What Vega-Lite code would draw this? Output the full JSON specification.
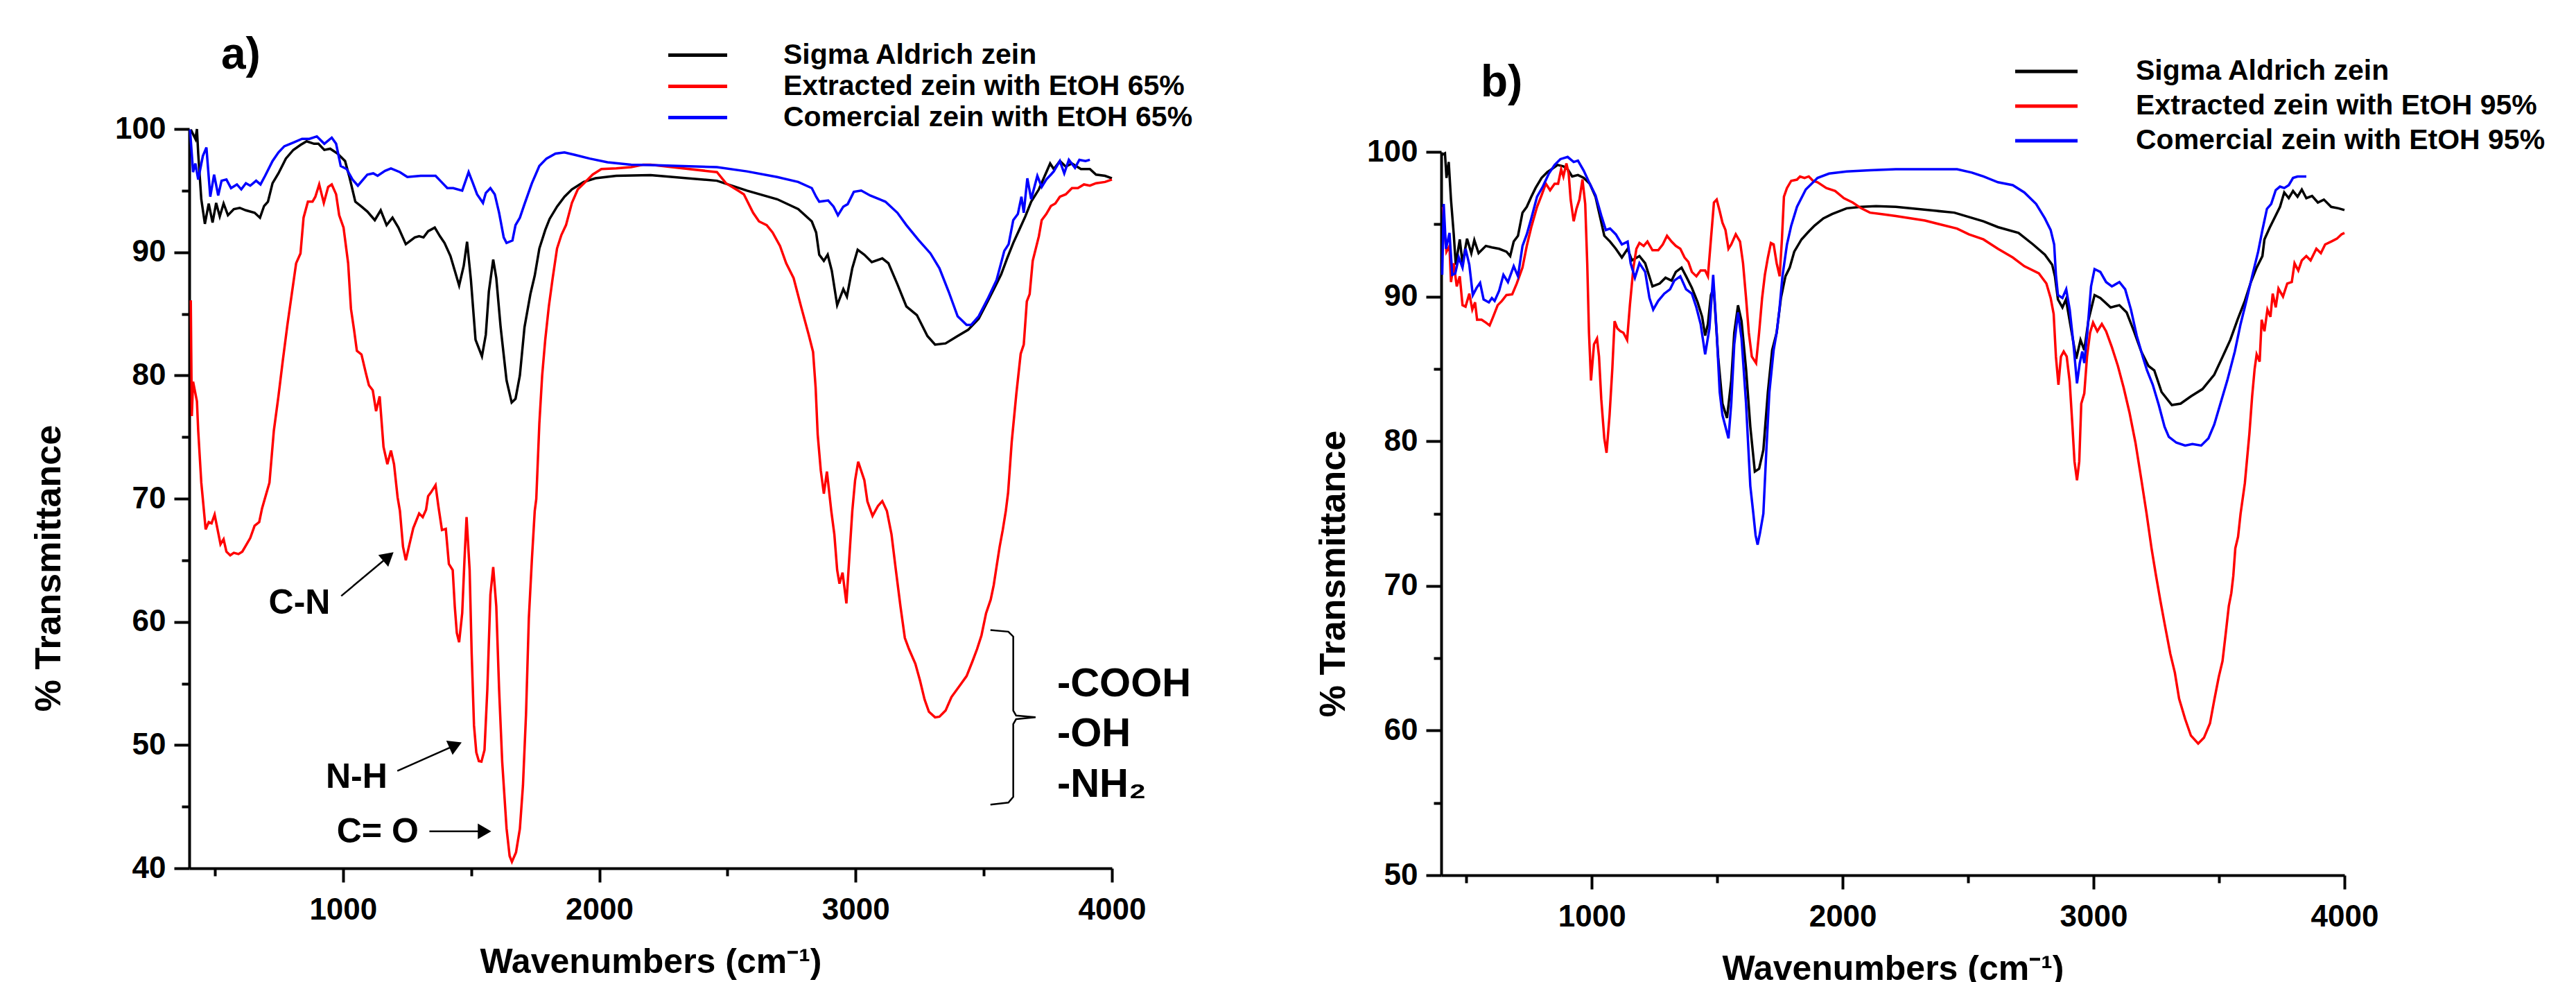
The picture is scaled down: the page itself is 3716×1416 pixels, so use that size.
{
"$schema": "https://vega.github.io/schema/vega-lite/v6.json",
"background": "white",
"padding": {"left": 44, "top": 47, "right": 10, "bottom": 0},
"autosize": {"type": "pad"},
"config": {
  "view": {"stroke": null},
  "font": "Liberation Sans",
  "axis": {"labelFont": "Liberation Sans", "titleFont": "Liberation Sans", "labelFontWeight": "bold", "titleFontWeight": "bold", "labelColor": "#000", "titleColor": "#000", "domainColor": "#000", "tickColor": "#000", "grid": false, "domainWidth": 4, "tickWidth": 4, "labelFontSize": 44, "labelFlush": false, "labelOverlap": false},
  "legend": {"labelFont": "Liberation Sans", "labelFontWeight": "bold", "labelFontSize": 41, "labelColor": "#000", "symbolType": "stroke", "symbolStrokeWidth": 5, "padding": 0, "rowPadding": 0, "labelLimit": 1000, "title": null},
  "title": {"font": "Liberation Sans", "fontSize": 64, "fontWeight": "bold", "anchor": "start", "color": "#000", "frame": "group"}
},
"datasets": {
  "a": [
    {"s":"Sigma Aldrich zein","w":406,"t":99.95},{"s":"Sigma Aldrich zein","w":424,"t":99.2},{"s":"Sigma Aldrich zein","w":430,"t":100},{"s":"Sigma Aldrich zein","w":435,"t":98.0},{"s":"Sigma Aldrich zein","w":447,"t":94.3},{"s":"Sigma Aldrich zein","w":461,"t":92.3},{"s":"Sigma Aldrich zein","w":476,"t":93.95},{"s":"Sigma Aldrich zein","w":491,"t":92.4},{"s":"Sigma Aldrich zein","w":505,"t":94.0},{"s":"Sigma Aldrich zein","w":519,"t":92.9},{"s":"Sigma Aldrich zein","w":534,"t":93.95},{"s":"Sigma Aldrich zein","w":551,"t":93.0},{"s":"Sigma Aldrich zein","w":574,"t":93.5},{"s":"Sigma Aldrich zein","w":597,"t":93.6},{"s":"Sigma Aldrich zein","w":621,"t":93.4},{"s":"Sigma Aldrich zein","w":655,"t":93.2},{"s":"Sigma Aldrich zein","w":676,"t":92.8},{"s":"Sigma Aldrich zein","w":692,"t":93.75},{"s":"Sigma Aldrich zein","w":707,"t":94.1},{"s":"Sigma Aldrich zein","w":725,"t":95.6},{"s":"Sigma Aldrich zein","w":748,"t":96.4},{"s":"Sigma Aldrich zein","w":777,"t":97.6},{"s":"Sigma Aldrich zein","w":806,"t":98.3},{"s":"Sigma Aldrich zein","w":834,"t":98.7},{"s":"Sigma Aldrich zein","w":858,"t":99.0},{"s":"Sigma Aldrich zein","w":887,"t":98.8},{"s":"Sigma Aldrich zein","w":904,"t":98.8},{"s":"Sigma Aldrich zein","w":927,"t":98.3},{"s":"Sigma Aldrich zein","w":950,"t":98.4},{"s":"Sigma Aldrich zein","w":979,"t":98.0},{"s":"Sigma Aldrich zein","w":1008,"t":97.4},{"s":"Sigma Aldrich zein","w":1025,"t":96.1},{"s":"Sigma Aldrich zein","w":1048,"t":94.1},{"s":"Sigma Aldrich zein","w":1072,"t":93.7},{"s":"Sigma Aldrich zein","w":1095,"t":93.3},{"s":"Sigma Aldrich zein","w":1124,"t":92.6},{"s":"Sigma Aldrich zein","w":1147,"t":93.4},{"s":"Sigma Aldrich zein","w":1170,"t":92.2},{"s":"Sigma Aldrich zein","w":1193,"t":92.8},{"s":"Sigma Aldrich zein","w":1216,"t":92.0},{"s":"Sigma Aldrich zein","w":1245,"t":90.65},{"s":"Sigma Aldrich zein","w":1280,"t":91.2},{"s":"Sigma Aldrich zein","w":1297,"t":91.3},{"s":"Sigma Aldrich zein","w":1314,"t":91.2},{"s":"Sigma Aldrich zein","w":1332,"t":91.7},{"s":"Sigma Aldrich zein","w":1358,"t":92.0},{"s":"Sigma Aldrich zein","w":1378,"t":91.3},{"s":"Sigma Aldrich zein","w":1396,"t":90.75},{"s":"Sigma Aldrich zein","w":1419,"t":89.7},{"s":"Sigma Aldrich zein","w":1436,"t":88.5},{"s":"Sigma Aldrich zein","w":1453,"t":87.3},{"s":"Sigma Aldrich zein","w":1471,"t":88.9},{"s":"Sigma Aldrich zein","w":1484,"t":90.85},{"s":"Sigma Aldrich zein","w":1499,"t":87.75},{"s":"Sigma Aldrich zein","w":1517,"t":82.9},{"s":"Sigma Aldrich zein","w":1528,"t":82.3},{"s":"Sigma Aldrich zein","w":1542,"t":81.55},{"s":"Sigma Aldrich zein","w":1557,"t":83.3},{"s":"Sigma Aldrich zein","w":1569,"t":86.8},{"s":"Sigma Aldrich zein","w":1586,"t":89.4},{"s":"Sigma Aldrich zein","w":1598,"t":87.9},{"s":"Sigma Aldrich zein","w":1615,"t":83.9},{"s":"Sigma Aldrich zein","w":1638,"t":79.6},{"s":"Sigma Aldrich zein","w":1658,"t":77.8},{"s":"Sigma Aldrich zein","w":1673,"t":78.1},{"s":"Sigma Aldrich zein","w":1690,"t":80.0},{"s":"Sigma Aldrich zein","w":1708,"t":83.9},{"s":"Sigma Aldrich zein","w":1731,"t":86.6},{"s":"Sigma Aldrich zein","w":1748,"t":88.1},{"s":"Sigma Aldrich zein","w":1766,"t":90.3},{"s":"Sigma Aldrich zein","w":1789,"t":91.8},{"s":"Sigma Aldrich zein","w":1806,"t":92.7},{"s":"Sigma Aldrich zein","w":1835,"t":93.7},{"s":"Sigma Aldrich zein","w":1864,"t":94.5},{"s":"Sigma Aldrich zein","w":1893,"t":95.1},{"s":"Sigma Aldrich zein","w":1939,"t":95.7},{"s":"Sigma Aldrich zein","w":1985,"t":96.0},{"s":"Sigma Aldrich zein","w":2066,"t":96.2},{"s":"Sigma Aldrich zein","w":2200,"t":96.25},{"s":"Sigma Aldrich zein","w":2459,"t":95.8},{"s":"Sigma Aldrich zein","w":2576,"t":95.0},{"s":"Sigma Aldrich zein","w":2694,"t":94.3},{"s":"Sigma Aldrich zein","w":2776,"t":93.5},{"s":"Sigma Aldrich zein","w":2829,"t":92.5},{"s":"Sigma Aldrich zein","w":2846,"t":91.6},{"s":"Sigma Aldrich zein","w":2858,"t":89.8},{"s":"Sigma Aldrich zein","w":2876,"t":89.3},{"s":"Sigma Aldrich zein","w":2891,"t":89.8},{"s":"Sigma Aldrich zein","w":2907,"t":88.5},{"s":"Sigma Aldrich zein","w":2928,"t":85.7},{"s":"Sigma Aldrich zein","w":2952,"t":87.0},{"s":"Sigma Aldrich zein","w":2966,"t":86.4},{"s":"Sigma Aldrich zein","w":2987,"t":88.7},{"s":"Sigma Aldrich zein","w":3008,"t":90.2},{"s":"Sigma Aldrich zein","w":3034,"t":89.8},{"s":"Sigma Aldrich zein","w":3063,"t":89.2},{"s":"Sigma Aldrich zein","w":3104,"t":89.5},{"s":"Sigma Aldrich zein","w":3128,"t":89.1},{"s":"Sigma Aldrich zein","w":3163,"t":87.4},{"s":"Sigma Aldrich zein","w":3198,"t":85.6},{"s":"Sigma Aldrich zein","w":3239,"t":84.9},{"s":"Sigma Aldrich zein","w":3280,"t":83.2},{"s":"Sigma Aldrich zein","w":3310,"t":82.5},{"s":"Sigma Aldrich zein","w":3351,"t":82.6},{"s":"Sigma Aldrich zein","w":3398,"t":83.2},{"s":"Sigma Aldrich zein","w":3439,"t":83.7},{"s":"Sigma Aldrich zein","w":3480,"t":84.6},{"s":"Sigma Aldrich zein","w":3515,"t":86.0},{"s":"Sigma Aldrich zein","w":3544,"t":87.2},{"s":"Sigma Aldrich zein","w":3568,"t":88.2},{"s":"Sigma Aldrich zein","w":3591,"t":89.5},{"s":"Sigma Aldrich zein","w":3615,"t":90.75},{"s":"Sigma Aldrich zein","w":3638,"t":91.8},{"s":"Sigma Aldrich zein","w":3662,"t":92.9},{"s":"Sigma Aldrich zein","w":3685,"t":94.1},{"s":"Sigma Aldrich zein","w":3715,"t":95.1},{"s":"Sigma Aldrich zein","w":3738,"t":96.2},{"s":"Sigma Aldrich zein","w":3759,"t":97.2},{"s":"Sigma Aldrich zein","w":3773,"t":96.75},{"s":"Sigma Aldrich zein","w":3797,"t":97.4},{"s":"Sigma Aldrich zein","w":3820,"t":96.95},{"s":"Sigma Aldrich zein","w":3844,"t":97.2},{"s":"Sigma Aldrich zein","w":3879,"t":96.75},{"s":"Sigma Aldrich zein","w":3914,"t":96.75},{"s":"Sigma Aldrich zein","w":3938,"t":96.3},{"s":"Sigma Aldrich zein","w":3973,"t":96.2},{"s":"Sigma Aldrich zein","w":4000,"t":96.0},
    {"s":"Extracted zein with EtOH 65%","w":406,"t":86.1},{"s":"Extracted zein with EtOH 65%","w":410,"t":76.7},{"s":"Extracted zein with EtOH 65%","w":415,"t":79.5},{"s":"Extracted zein with EtOH 65%","w":430,"t":77.9},{"s":"Extracted zein with EtOH 65%","w":435,"t":75.5},{"s":"Extracted zein with EtOH 65%","w":447,"t":71.3},{"s":"Extracted zein with EtOH 65%","w":453,"t":69.97},{"s":"Extracted zein with EtOH 65%","w":464,"t":67.5},{"s":"Extracted zein with EtOH 65%","w":476,"t":68.1},{"s":"Extracted zein with EtOH 65%","w":487,"t":68.0},{"s":"Extracted zein with EtOH 65%","w":499,"t":68.7},{"s":"Extracted zein with EtOH 65%","w":511,"t":67.45},{"s":"Extracted zein with EtOH 65%","w":522,"t":66.3},{"s":"Extracted zein with EtOH 65%","w":534,"t":66.7},{"s":"Extracted zein with EtOH 65%","w":545,"t":65.7},{"s":"Extracted zein with EtOH 65%","w":560,"t":65.4},{"s":"Extracted zein with EtOH 65%","w":574,"t":65.6},{"s":"Extracted zein with EtOH 65%","w":592,"t":65.5},{"s":"Extracted zein with EtOH 65%","w":607,"t":65.7},{"s":"Extracted zein with EtOH 65%","w":621,"t":66.2},{"s":"Extracted zein with EtOH 65%","w":638,"t":66.8},{"s":"Extracted zein with EtOH 65%","w":655,"t":67.8},{"s":"Extracted zein with EtOH 65%","w":673,"t":68.1},{"s":"Extracted zein with EtOH 65%","w":684,"t":69.2},{"s":"Extracted zein with EtOH 65%","w":695,"t":70.0},{"s":"Extracted zein with EtOH 65%","w":713,"t":71.3},{"s":"Extracted zein with EtOH 65%","w":730,"t":75.5},{"s":"Extracted zein with EtOH 65%","w":748,"t":78.3},{"s":"Extracted zein with EtOH 65%","w":765,"t":81.2},{"s":"Extracted zein with EtOH 65%","w":783,"t":84.1},{"s":"Extracted zein with EtOH 65%","w":800,"t":86.6},{"s":"Extracted zein with EtOH 65%","w":817,"t":89.1},{"s":"Extracted zein with EtOH 65%","w":834,"t":89.9},{"s":"Extracted zein with EtOH 65%","w":846,"t":92.8},{"s":"Extracted zein with EtOH 65%","w":863,"t":94.1},{"s":"Extracted zein with EtOH 65%","w":881,"t":94.1},{"s":"Extracted zein with EtOH 65%","w":892,"t":94.5},{"s":"Extracted zein with EtOH 65%","w":907,"t":95.5},{"s":"Extracted zein with EtOH 65%","w":925,"t":94.0},{"s":"Extracted zein with EtOH 65%","w":942,"t":95.3},{"s":"Extracted zein with EtOH 65%","w":956,"t":95.5},{"s":"Extracted zein with EtOH 65%","w":973,"t":94.7},{"s":"Extracted zein with EtOH 65%","w":985,"t":93.0},{"s":"Extracted zein with EtOH 65%","w":1002,"t":92.0},{"s":"Extracted zein with EtOH 65%","w":1020,"t":89.1},{"s":"Extracted zein with EtOH 65%","w":1031,"t":85.4},{"s":"Extracted zein with EtOH 65%","w":1043,"t":83.7},{"s":"Extracted zein with EtOH 65%","w":1054,"t":82.0},{"s":"Extracted zein with EtOH 65%","w":1072,"t":81.7},{"s":"Extracted zein with EtOH 65%","w":1089,"t":80.2},{"s":"Extracted zein with EtOH 65%","w":1101,"t":79.2},{"s":"Extracted zein with EtOH 65%","w":1116,"t":78.8},{"s":"Extracted zein with EtOH 65%","w":1129,"t":77.1},{"s":"Extracted zein with EtOH 65%","w":1143,"t":78.3},{"s":"Extracted zein with EtOH 65%","w":1158,"t":74.2},{"s":"Extracted zein with EtOH 65%","w":1173,"t":72.8},{"s":"Extracted zein with EtOH 65%","w":1187,"t":73.9},{"s":"Extracted zein with EtOH 65%","w":1199,"t":72.8},{"s":"Extracted zein with EtOH 65%","w":1213,"t":70.1},{"s":"Extracted zein with EtOH 65%","w":1222,"t":69.0},{"s":"Extracted zein with EtOH 65%","w":1234,"t":66.1},{"s":"Extracted zein with EtOH 65%","w":1245,"t":65.0},{"s":"Extracted zein with EtOH 65%","w":1257,"t":66.1},{"s":"Extracted zein with EtOH 65%","w":1274,"t":67.6},{"s":"Extracted zein with EtOH 65%","w":1297,"t":68.8},{"s":"Extracted zein with EtOH 65%","w":1311,"t":68.5},{"s":"Extracted zein with EtOH 65%","w":1324,"t":69.1},{"s":"Extracted zein with EtOH 65%","w":1332,"t":70.2},{"s":"Extracted zein with EtOH 65%","w":1343,"t":70.5},{"s":"Extracted zein with EtOH 65%","w":1361,"t":71.1},{"s":"Extracted zein with EtOH 65%","w":1372,"t":69.4},{"s":"Extracted zein with EtOH 65%","w":1386,"t":67.45},{"s":"Extracted zein with EtOH 65%","w":1401,"t":67.55},{"s":"Extracted zein with EtOH 65%","w":1413,"t":64.7},{"s":"Extracted zein with EtOH 65%","w":1428,"t":64.2},{"s":"Extracted zein with EtOH 65%","w":1436,"t":61.25},{"s":"Extracted zein with EtOH 65%","w":1444,"t":59.1},{"s":"Extracted zein with EtOH 65%","w":1453,"t":58.35},{"s":"Extracted zein with EtOH 65%","w":1465,"t":60.7},{"s":"Extracted zein with EtOH 65%","w":1474,"t":65.1},{"s":"Extracted zein with EtOH 65%","w":1482,"t":68.5},{"s":"Extracted zein with EtOH 65%","w":1494,"t":64.2},{"s":"Extracted zein with EtOH 65%","w":1502,"t":57.4},{"s":"Extracted zein with EtOH 65%","w":1511,"t":51.6},{"s":"Extracted zein with EtOH 65%","w":1520,"t":49.4},{"s":"Extracted zein with EtOH 65%","w":1530,"t":48.7},{"s":"Extracted zein with EtOH 65%","w":1540,"t":48.66},{"s":"Extracted zein with EtOH 65%","w":1552,"t":49.6},{"s":"Extracted zein with EtOH 65%","w":1563,"t":54.5},{"s":"Extracted zein with EtOH 65%","w":1575,"t":62.2},{"s":"Extracted zein with EtOH 65%","w":1586,"t":64.45},{"s":"Extracted zein with EtOH 65%","w":1598,"t":61.25},{"s":"Extracted zein with EtOH 65%","w":1609,"t":54.5},{"s":"Extracted zein with EtOH 65%","w":1621,"t":48.66},{"s":"Extracted zein with EtOH 65%","w":1638,"t":43.24},{"s":"Extracted zein with EtOH 65%","w":1650,"t":41.0},{"s":"Extracted zein with EtOH 65%","w":1659,"t":40.53},{"s":"Extracted zein with EtOH 65%","w":1675,"t":41.3},{"s":"Extracted zein with EtOH 65%","w":1690,"t":43.2},{"s":"Extracted zein with EtOH 65%","w":1702,"t":46.7},{"s":"Extracted zein with EtOH 65%","w":1714,"t":52.5},{"s":"Extracted zein with EtOH 65%","w":1725,"t":60.3},{"s":"Extracted zein with EtOH 65%","w":1737,"t":65.1},{"s":"Extracted zein with EtOH 65%","w":1748,"t":69.0},{"s":"Extracted zein with EtOH 65%","w":1754,"t":69.97},{"s":"Extracted zein with EtOH 65%","w":1766,"t":76.1},{"s":"Extracted zein with EtOH 65%","w":1777,"t":80.0},{"s":"Extracted zein with EtOH 65%","w":1789,"t":82.9},{"s":"Extracted zein with EtOH 65%","w":1803,"t":85.6},{"s":"Extracted zein with EtOH 65%","w":1818,"t":87.9},{"s":"Extracted zein with EtOH 65%","w":1835,"t":90.3},{"s":"Extracted zein with EtOH 65%","w":1852,"t":91.4},{"s":"Extracted zein with EtOH 65%","w":1870,"t":92.2},{"s":"Extracted zein with EtOH 65%","w":1893,"t":94.0},{"s":"Extracted zein with EtOH 65%","w":1916,"t":95.1},{"s":"Extracted zein with EtOH 65%","w":1945,"t":95.7},{"s":"Extracted zein with EtOH 65%","w":1974,"t":96.3},{"s":"Extracted zein with EtOH 65%","w":2008,"t":96.75},{"s":"Extracted zein with EtOH 65%","w":2066,"t":96.8},{"s":"Extracted zein with EtOH 65%","w":2124,"t":96.9},{"s":"Extracted zein with EtOH 65%","w":2170,"t":97.1},{"s":"Extracted zein with EtOH 65%","w":2200,"t":97.1},{"s":"Extracted zein with EtOH 65%","w":2459,"t":96.5},{"s":"Extracted zein with EtOH 65%","w":2494,"t":95.6},{"s":"Extracted zein with EtOH 65%","w":2541,"t":95.0},{"s":"Extracted zein with EtOH 65%","w":2564,"t":94.7},{"s":"Extracted zein with EtOH 65%","w":2600,"t":93.2},{"s":"Extracted zein with EtOH 65%","w":2623,"t":92.5},{"s":"Extracted zein with EtOH 65%","w":2653,"t":92.2},{"s":"Extracted zein with EtOH 65%","w":2676,"t":91.6},{"s":"Extracted zein with EtOH 65%","w":2705,"t":90.5},{"s":"Extracted zein with EtOH 65%","w":2729,"t":89.1},{"s":"Extracted zein with EtOH 65%","w":2758,"t":87.9},{"s":"Extracted zein with EtOH 65%","w":2787,"t":85.6},{"s":"Extracted zein with EtOH 65%","w":2817,"t":83.3},{"s":"Extracted zein with EtOH 65%","w":2834,"t":81.9},{"s":"Extracted zein with EtOH 65%","w":2844,"t":79.0},{"s":"Extracted zein with EtOH 65%","w":2852,"t":75.2},{"s":"Extracted zein with EtOH 65%","w":2864,"t":72.3},{"s":"Extracted zein with EtOH 65%","w":2876,"t":70.4},{"s":"Extracted zein with EtOH 65%","w":2888,"t":72.2},{"s":"Extracted zein with EtOH 65%","w":2905,"t":69.0},{"s":"Extracted zein with EtOH 65%","w":2917,"t":67.1},{"s":"Extracted zein with EtOH 65%","w":2928,"t":64.2},{"s":"Extracted zein with EtOH 65%","w":2937,"t":63.1},{"s":"Extracted zein with EtOH 65%","w":2949,"t":64.0},{"s":"Extracted zein with EtOH 65%","w":2964,"t":61.5},{"s":"Extracted zein with EtOH 65%","w":2975,"t":65.1},{"s":"Extracted zein with EtOH 65%","w":2987,"t":69.0},{"s":"Extracted zein with EtOH 65%","w":2998,"t":71.5},{"s":"Extracted zein with EtOH 65%","w":3010,"t":73.0},{"s":"Extracted zein with EtOH 65%","w":3034,"t":71.5},{"s":"Extracted zein with EtOH 65%","w":3046,"t":69.77},{"s":"Extracted zein with EtOH 65%","w":3066,"t":68.6},{"s":"Extracted zein with EtOH 65%","w":3087,"t":69.4},{"s":"Extracted zein with EtOH 65%","w":3104,"t":69.8},{"s":"Extracted zein with EtOH 65%","w":3122,"t":69.0},{"s":"Extracted zein with EtOH 65%","w":3140,"t":67.1},{"s":"Extracted zein with EtOH 65%","w":3157,"t":64.2},{"s":"Extracted zein with EtOH 65%","w":3175,"t":61.25},{"s":"Extracted zein with EtOH 65%","w":3192,"t":58.7},{"s":"Extracted zein with EtOH 65%","w":3208,"t":57.8},{"s":"Extracted zein with EtOH 65%","w":3233,"t":56.6},{"s":"Extracted zein with EtOH 65%","w":3251,"t":55.25},{"s":"Extracted zein with EtOH 65%","w":3269,"t":53.7},{"s":"Extracted zein with EtOH 65%","w":3286,"t":52.7},{"s":"Extracted zein with EtOH 65%","w":3310,"t":52.25},{"s":"Extracted zein with EtOH 65%","w":3327,"t":52.3},{"s":"Extracted zein with EtOH 65%","w":3351,"t":52.8},{"s":"Extracted zein with EtOH 65%","w":3374,"t":53.9},{"s":"Extracted zein with EtOH 65%","w":3409,"t":54.9},{"s":"Extracted zein with EtOH 65%","w":3433,"t":55.6},{"s":"Extracted zein with EtOH 65%","w":3456,"t":56.8},{"s":"Extracted zein with EtOH 65%","w":3474,"t":57.8},{"s":"Extracted zein with EtOH 65%","w":3491,"t":58.9},{"s":"Extracted zein with EtOH 65%","w":3509,"t":60.7},{"s":"Extracted zein with EtOH 65%","w":3527,"t":61.8},{"s":"Extracted zein with EtOH 65%","w":3539,"t":63.0},{"s":"Extracted zein with EtOH 65%","w":3550,"t":64.5},{"s":"Extracted zein with EtOH 65%","w":3562,"t":66.1},{"s":"Extracted zein with EtOH 65%","w":3574,"t":67.45},{"s":"Extracted zein with EtOH 65%","w":3586,"t":69.0},{"s":"Extracted zein with EtOH 65%","w":3595,"t":70.5},{"s":"Extracted zein with EtOH 65%","w":3609,"t":74.6},{"s":"Extracted zein with EtOH 65%","w":3627,"t":78.5},{"s":"Extracted zein with EtOH 65%","w":3644,"t":81.75},{"s":"Extracted zein with EtOH 65%","w":3656,"t":82.5},{"s":"Extracted zein with EtOH 65%","w":3668,"t":86.0},{"s":"Extracted zein with EtOH 65%","w":3679,"t":86.6},{"s":"Extracted zein with EtOH 65%","w":3691,"t":89.3},{"s":"Extracted zein with EtOH 65%","w":3703,"t":90.3},{"s":"Extracted zein with EtOH 65%","w":3715,"t":91.3},{"s":"Extracted zein with EtOH 65%","w":3726,"t":92.6},{"s":"Extracted zein with EtOH 65%","w":3744,"t":93.1},{"s":"Extracted zein with EtOH 65%","w":3762,"t":93.75},{"s":"Extracted zein with EtOH 65%","w":3779,"t":93.95},{"s":"Extracted zein with EtOH 65%","w":3797,"t":94.5},{"s":"Extracted zein with EtOH 65%","w":3820,"t":94.7},{"s":"Extracted zein with EtOH 65%","w":3844,"t":95.2},{"s":"Extracted zein with EtOH 65%","w":3867,"t":95.2},{"s":"Extracted zein with EtOH 65%","w":3891,"t":95.5},{"s":"Extracted zein with EtOH 65%","w":3914,"t":95.4},{"s":"Extracted zein with EtOH 65%","w":3938,"t":95.6},{"s":"Extracted zein with EtOH 65%","w":3973,"t":95.7},{"s":"Extracted zein with EtOH 65%","w":4000,"t":95.9},
    {"s":"Comercial zein with EtOH 65%","w":403,"t":99.95},{"s":"Comercial zein with EtOH 65%","w":415,"t":96.5},{"s":"Comercial zein with EtOH 65%","w":424,"t":97.2},{"s":"Comercial zein with EtOH 65%","w":435,"t":95.9},{"s":"Comercial zein with EtOH 65%","w":453,"t":97.8},{"s":"Comercial zein with EtOH 65%","w":467,"t":98.5},{"s":"Comercial zein with EtOH 65%","w":482,"t":94.5},{"s":"Comercial zein with EtOH 65%","w":497,"t":96.3},{"s":"Comercial zein with EtOH 65%","w":513,"t":94.6},{"s":"Comercial zein with EtOH 65%","w":526,"t":95.8},{"s":"Comercial zein with EtOH 65%","w":545,"t":95.9},{"s":"Comercial zein with EtOH 65%","w":563,"t":95.2},{"s":"Comercial zein with EtOH 65%","w":586,"t":95.5},{"s":"Comercial zein with EtOH 65%","w":603,"t":95.1},{"s":"Comercial zein with EtOH 65%","w":621,"t":95.6},{"s":"Comercial zein with EtOH 65%","w":638,"t":95.4},{"s":"Comercial zein with EtOH 65%","w":661,"t":95.8},{"s":"Comercial zein with EtOH 65%","w":678,"t":95.5},{"s":"Comercial zein with EtOH 65%","w":696,"t":96.2},{"s":"Comercial zein with EtOH 65%","w":725,"t":97.4},{"s":"Comercial zein with EtOH 65%","w":748,"t":98.1},{"s":"Comercial zein with EtOH 65%","w":771,"t":98.6},{"s":"Comercial zein with EtOH 65%","w":806,"t":98.9},{"s":"Comercial zein with EtOH 65%","w":840,"t":99.2},{"s":"Comercial zein with EtOH 65%","w":869,"t":99.2},{"s":"Comercial zein with EtOH 65%","w":898,"t":99.4},{"s":"Comercial zein with EtOH 65%","w":927,"t":98.8},{"s":"Comercial zein with EtOH 65%","w":956,"t":99.3},{"s":"Comercial zein with EtOH 65%","w":973,"t":98.8},{"s":"Comercial zein with EtOH 65%","w":991,"t":97.0},{"s":"Comercial zein with EtOH 65%","w":1014,"t":96.75},{"s":"Comercial zein with EtOH 65%","w":1037,"t":95.9},{"s":"Comercial zein with EtOH 65%","w":1058,"t":95.4},{"s":"Comercial zein with EtOH 65%","w":1095,"t":96.3},{"s":"Comercial zein with EtOH 65%","w":1118,"t":96.4},{"s":"Comercial zein with EtOH 65%","w":1135,"t":96.2},{"s":"Comercial zein with EtOH 65%","w":1164,"t":96.6},{"s":"Comercial zein with EtOH 65%","w":1187,"t":96.8},{"s":"Comercial zein with EtOH 65%","w":1222,"t":96.5},{"s":"Comercial zein with EtOH 65%","w":1251,"t":96.1},{"s":"Comercial zein with EtOH 65%","w":1303,"t":96.2},{"s":"Comercial zein with EtOH 65%","w":1338,"t":96.2},{"s":"Comercial zein with EtOH 65%","w":1361,"t":96.2},{"s":"Comercial zein with EtOH 65%","w":1384,"t":95.7},{"s":"Comercial zein with EtOH 65%","w":1407,"t":95.2},{"s":"Comercial zein with EtOH 65%","w":1430,"t":95.2},{"s":"Comercial zein with EtOH 65%","w":1465,"t":95.0},{"s":"Comercial zein with EtOH 65%","w":1490,"t":96.5},{"s":"Comercial zein with EtOH 65%","w":1505,"t":95.7},{"s":"Comercial zein with EtOH 65%","w":1523,"t":94.7},{"s":"Comercial zein with EtOH 65%","w":1546,"t":94.0},{"s":"Comercial zein with EtOH 65%","w":1557,"t":94.8},{"s":"Comercial zein with EtOH 65%","w":1575,"t":95.2},{"s":"Comercial zein with EtOH 65%","w":1592,"t":94.7},{"s":"Comercial zein with EtOH 65%","w":1609,"t":93.2},{"s":"Comercial zein with EtOH 65%","w":1627,"t":91.2},{"s":"Comercial zein with EtOH 65%","w":1638,"t":90.75},{"s":"Comercial zein with EtOH 65%","w":1661,"t":90.95},{"s":"Comercial zein with EtOH 65%","w":1673,"t":92.2},{"s":"Comercial zein with EtOH 65%","w":1690,"t":92.8},{"s":"Comercial zein with EtOH 65%","w":1708,"t":93.9},{"s":"Comercial zein with EtOH 65%","w":1725,"t":94.9},{"s":"Comercial zein with EtOH 65%","w":1737,"t":95.6},{"s":"Comercial zein with EtOH 65%","w":1766,"t":97.0},{"s":"Comercial zein with EtOH 65%","w":1794,"t":97.6},{"s":"Comercial zein with EtOH 65%","w":1829,"t":98.0},{"s":"Comercial zein with EtOH 65%","w":1864,"t":98.1},{"s":"Comercial zein with EtOH 65%","w":1904,"t":97.9},{"s":"Comercial zein with EtOH 65%","w":1962,"t":97.6},{"s":"Comercial zein with EtOH 65%","w":2032,"t":97.3},{"s":"Comercial zein with EtOH 65%","w":2124,"t":97.1},{"s":"Comercial zein with EtOH 65%","w":2200,"t":97.08},{"s":"Comercial zein with EtOH 65%","w":2459,"t":96.9},{"s":"Comercial zein with EtOH 65%","w":2576,"t":96.56},{"s":"Comercial zein with EtOH 65%","w":2694,"t":96.1},{"s":"Comercial zein with EtOH 65%","w":2776,"t":95.7},{"s":"Comercial zein with EtOH 65%","w":2829,"t":95.2},{"s":"Comercial zein with EtOH 65%","w":2846,"t":94.5},{"s":"Comercial zein with EtOH 65%","w":2858,"t":94.1},{"s":"Comercial zein with EtOH 65%","w":2893,"t":94.2},{"s":"Comercial zein with EtOH 65%","w":2914,"t":93.7},{"s":"Comercial zein with EtOH 65%","w":2931,"t":93.0},{"s":"Comercial zein with EtOH 65%","w":2952,"t":93.7},{"s":"Comercial zein with EtOH 65%","w":2969,"t":93.9},{"s":"Comercial zein with EtOH 65%","w":2993,"t":94.9},{"s":"Comercial zein with EtOH 65%","w":3022,"t":95.0},{"s":"Comercial zein with EtOH 65%","w":3057,"t":94.6},{"s":"Comercial zein with EtOH 65%","w":3116,"t":94.1},{"s":"Comercial zein with EtOH 65%","w":3163,"t":93.2},{"s":"Comercial zein with EtOH 65%","w":3198,"t":92.2},{"s":"Comercial zein with EtOH 65%","w":3245,"t":91.0},{"s":"Comercial zein with EtOH 65%","w":3292,"t":89.9},{"s":"Comercial zein with EtOH 65%","w":3327,"t":88.7},{"s":"Comercial zein with EtOH 65%","w":3363,"t":86.8},{"s":"Comercial zein with EtOH 65%","w":3398,"t":84.8},{"s":"Comercial zein with EtOH 65%","w":3433,"t":84.1},{"s":"Comercial zein with EtOH 65%","w":3451,"t":84.1},{"s":"Comercial zein with EtOH 65%","w":3480,"t":84.8},{"s":"Comercial zein with EtOH 65%","w":3515,"t":86.2},{"s":"Comercial zein with EtOH 65%","w":3550,"t":87.75},{"s":"Comercial zein with EtOH 65%","w":3580,"t":90.1},{"s":"Comercial zein with EtOH 65%","w":3597,"t":90.65},{"s":"Comercial zein with EtOH 65%","w":3615,"t":92.6},{"s":"Comercial zein with EtOH 65%","w":3633,"t":93.1},{"s":"Comercial zein with EtOH 65%","w":3647,"t":94.5},{"s":"Comercial zein with EtOH 65%","w":3656,"t":93.2},{"s":"Comercial zein with EtOH 65%","w":3670,"t":96.0},{"s":"Comercial zein with EtOH 65%","w":3685,"t":94.3},{"s":"Comercial zein with EtOH 65%","w":3709,"t":96.2},{"s":"Comercial zein with EtOH 65%","w":3726,"t":95.3},{"s":"Comercial zein with EtOH 65%","w":3744,"t":95.9},{"s":"Comercial zein with EtOH 65%","w":3762,"t":96.3},{"s":"Comercial zein with EtOH 65%","w":3773,"t":96.56},{"s":"Comercial zein with EtOH 65%","w":3797,"t":97.4},{"s":"Comercial zein with EtOH 65%","w":3814,"t":96.4},{"s":"Comercial zein with EtOH 65%","w":3832,"t":97.5},{"s":"Comercial zein with EtOH 65%","w":3856,"t":96.85},{"s":"Comercial zein with EtOH 65%","w":3873,"t":97.5},{"s":"Comercial zein with EtOH 65%","w":3897,"t":97.4},{"s":"Comercial zein with EtOH 65%","w":3914,"t":97.5}
  ],
  "b": [
    {"s":"Sigma Aldrich zein","w":404,"t":99.8},{"s":"Sigma Aldrich zein","w":415,"t":99.9},{"s":"Sigma Aldrich zein","w":421,"t":98.2},{"s":"Sigma Aldrich zein","w":430,"t":99.3},{"s":"Sigma Aldrich zein","w":439,"t":96.7},{"s":"Sigma Aldrich zein","w":450,"t":94.3},{"s":"Sigma Aldrich zein","w":458,"t":92.2},{"s":"Sigma Aldrich zein","w":474,"t":93.95},{"s":"Sigma Aldrich zein","w":485,"t":92.3},{"s":"Sigma Aldrich zein","w":503,"t":94.0},{"s":"Sigma Aldrich zein","w":520,"t":93.0},{"s":"Sigma Aldrich zein","w":532,"t":93.9},{"s":"Sigma Aldrich zein","w":549,"t":93.0},{"s":"Sigma Aldrich zein","w":578,"t":93.5},{"s":"Sigma Aldrich zein","w":602,"t":93.4},{"s":"Sigma Aldrich zein","w":631,"t":93.3},{"s":"Sigma Aldrich zein","w":660,"t":93.1},{"s":"Sigma Aldrich zein","w":675,"t":92.8},{"s":"Sigma Aldrich zein","w":689,"t":93.8},{"s":"Sigma Aldrich zein","w":706,"t":94.2},{"s":"Sigma Aldrich zein","w":724,"t":95.8},{"s":"Sigma Aldrich zein","w":741,"t":96.2},{"s":"Sigma Aldrich zein","w":759,"t":96.9},{"s":"Sigma Aldrich zein","w":776,"t":97.5},{"s":"Sigma Aldrich zein","w":800,"t":98.2},{"s":"Sigma Aldrich zein","w":823,"t":98.6},{"s":"Sigma Aldrich zein","w":840,"t":98.8},{"s":"Sigma Aldrich zein","w":864,"t":99.1},{"s":"Sigma Aldrich zein","w":887,"t":99.0},{"s":"Sigma Aldrich zein","w":904,"t":98.8},{"s":"Sigma Aldrich zein","w":922,"t":98.3},{"s":"Sigma Aldrich zein","w":945,"t":98.4},{"s":"Sigma Aldrich zein","w":968,"t":98.2},{"s":"Sigma Aldrich zein","w":992,"t":97.8},{"s":"Sigma Aldrich zein","w":1015,"t":96.9},{"s":"Sigma Aldrich zein","w":1032,"t":95.6},{"s":"Sigma Aldrich zein","w":1050,"t":94.2},{"s":"Sigma Aldrich zein","w":1073,"t":93.8},{"s":"Sigma Aldrich zein","w":1096,"t":93.3},{"s":"Sigma Aldrich zein","w":1120,"t":92.7},{"s":"Sigma Aldrich zein","w":1143,"t":93.3},{"s":"Sigma Aldrich zein","w":1160,"t":92.5},{"s":"Sigma Aldrich zein","w":1190,"t":92.8},{"s":"Sigma Aldrich zein","w":1213,"t":92.3},{"s":"Sigma Aldrich zein","w":1242,"t":90.7},{"s":"Sigma Aldrich zein","w":1271,"t":90.9},{"s":"Sigma Aldrich zein","w":1294,"t":91.3},{"s":"Sigma Aldrich zein","w":1318,"t":91.1},{"s":"Sigma Aldrich zein","w":1335,"t":91.7},{"s":"Sigma Aldrich zein","w":1358,"t":92.0},{"s":"Sigma Aldrich zein","w":1376,"t":91.4},{"s":"Sigma Aldrich zein","w":1399,"t":90.6},{"s":"Sigma Aldrich zein","w":1422,"t":89.6},{"s":"Sigma Aldrich zein","w":1440,"t":88.6},{"s":"Sigma Aldrich zein","w":1452,"t":87.3},{"s":"Sigma Aldrich zein","w":1463,"t":88.1},{"s":"Sigma Aldrich zein","w":1475,"t":90.1},{"s":"Sigma Aldrich zein","w":1486,"t":90.6},{"s":"Sigma Aldrich zein","w":1504,"t":85.8},{"s":"Sigma Aldrich zein","w":1521,"t":82.6},{"s":"Sigma Aldrich zein","w":1539,"t":81.6},{"s":"Sigma Aldrich zein","w":1556,"t":84.2},{"s":"Sigma Aldrich zein","w":1568,"t":87.5},{"s":"Sigma Aldrich zein","w":1583,"t":89.4},{"s":"Sigma Aldrich zein","w":1597,"t":88.3},{"s":"Sigma Aldrich zein","w":1615,"t":85.0},{"s":"Sigma Aldrich zein","w":1632,"t":81.0},{"s":"Sigma Aldrich zein","w":1650,"t":77.9},{"s":"Sigma Aldrich zein","w":1667,"t":78.1},{"s":"Sigma Aldrich zein","w":1684,"t":79.4},{"s":"Sigma Aldrich zein","w":1702,"t":83.4},{"s":"Sigma Aldrich zein","w":1719,"t":86.3},{"s":"Sigma Aldrich zein","w":1737,"t":87.5},{"s":"Sigma Aldrich zein","w":1754,"t":89.9},{"s":"Sigma Aldrich zein","w":1772,"t":91.4},{"s":"Sigma Aldrich zein","w":1789,"t":92.0},{"s":"Sigma Aldrich zein","w":1807,"t":93.1},{"s":"Sigma Aldrich zein","w":1836,"t":93.95},{"s":"Sigma Aldrich zein","w":1865,"t":94.5},{"s":"Sigma Aldrich zein","w":1888,"t":94.9},{"s":"Sigma Aldrich zein","w":1923,"t":95.4},{"s":"Sigma Aldrich zein","w":1958,"t":95.7},{"s":"Sigma Aldrich zein","w":2016,"t":96.1},{"s":"Sigma Aldrich zein","w":2074,"t":96.2},{"s":"Sigma Aldrich zein","w":2133,"t":96.25},{"s":"Sigma Aldrich zein","w":2212,"t":96.2},{"s":"Sigma Aldrich zein","w":2445,"t":95.8},{"s":"Sigma Aldrich zein","w":2503,"t":95.5},{"s":"Sigma Aldrich zein","w":2561,"t":95.2},{"s":"Sigma Aldrich zein","w":2619,"t":94.8},{"s":"Sigma Aldrich zein","w":2701,"t":94.4},{"s":"Sigma Aldrich zein","w":2759,"t":93.6},{"s":"Sigma Aldrich zein","w":2806,"t":92.9},{"s":"Sigma Aldrich zein","w":2835,"t":92.2},{"s":"Sigma Aldrich zein","w":2846,"t":91.4},{"s":"Sigma Aldrich zein","w":2858,"t":89.8},{"s":"Sigma Aldrich zein","w":2876,"t":89.25},{"s":"Sigma Aldrich zein","w":2890,"t":89.8},{"s":"Sigma Aldrich zein","w":2910,"t":87.8},{"s":"Sigma Aldrich zein","w":2931,"t":85.7},{"s":"Sigma Aldrich zein","w":2948,"t":87.0},{"s":"Sigma Aldrich zein","w":2963,"t":86.3},{"s":"Sigma Aldrich zein","w":2980,"t":88.4},{"s":"Sigma Aldrich zein","w":3004,"t":90.1},{"s":"Sigma Aldrich zein","w":3027,"t":89.9},{"s":"Sigma Aldrich zein","w":3068,"t":89.25},{"s":"Sigma Aldrich zein","w":3103,"t":89.4},{"s":"Sigma Aldrich zein","w":3132,"t":88.9},{"s":"Sigma Aldrich zein","w":3161,"t":87.6},{"s":"Sigma Aldrich zein","w":3190,"t":86.2},{"s":"Sigma Aldrich zein","w":3219,"t":85.2},{"s":"Sigma Aldrich zein","w":3242,"t":84.9},{"s":"Sigma Aldrich zein","w":3271,"t":83.4},{"s":"Sigma Aldrich zein","w":3312,"t":82.5},{"s":"Sigma Aldrich zein","w":3347,"t":82.6},{"s":"Sigma Aldrich zein","w":3388,"t":83.1},{"s":"Sigma Aldrich zein","w":3434,"t":83.6},{"s":"Sigma Aldrich zein","w":3481,"t":84.6},{"s":"Sigma Aldrich zein","w":3516,"t":85.9},{"s":"Sigma Aldrich zein","w":3545,"t":87.0},{"s":"Sigma Aldrich zein","w":3574,"t":88.4},{"s":"Sigma Aldrich zein","w":3603,"t":89.7},{"s":"Sigma Aldrich zein","w":3627,"t":91.0},{"s":"Sigma Aldrich zein","w":3650,"t":92.0},{"s":"Sigma Aldrich zein","w":3673,"t":92.8},{"s":"Sigma Aldrich zein","w":3681,"t":93.95},{"s":"Sigma Aldrich zein","w":3702,"t":94.76},{"s":"Sigma Aldrich zein","w":3726,"t":95.6},{"s":"Sigma Aldrich zein","w":3743,"t":96.2},{"s":"Sigma Aldrich zein","w":3760,"t":97.2},{"s":"Sigma Aldrich zein","w":3778,"t":96.8},{"s":"Sigma Aldrich zein","w":3795,"t":97.3},{"s":"Sigma Aldrich zein","w":3813,"t":96.9},{"s":"Sigma Aldrich zein","w":3830,"t":97.4},{"s":"Sigma Aldrich zein","w":3848,"t":96.8},{"s":"Sigma Aldrich zein","w":3871,"t":96.95},{"s":"Sigma Aldrich zein","w":3894,"t":96.5},{"s":"Sigma Aldrich zein","w":3918,"t":96.7},{"s":"Sigma Aldrich zein","w":3947,"t":96.2},{"s":"Sigma Aldrich zein","w":3976,"t":96.1},{"s":"Sigma Aldrich zein","w":4000,"t":95.98},
    {"s":"Extracted zein with EtOH 95%","w":407,"t":96.2},{"s":"Extracted zein with EtOH 95%","w":412,"t":94.8},{"s":"Extracted zein with EtOH 95%","w":421,"t":93.1},{"s":"Extracted zein with EtOH 95%","w":433,"t":93.5},{"s":"Extracted zein with EtOH 95%","w":439,"t":91.0},{"s":"Extracted zein with EtOH 95%","w":450,"t":92.3},{"s":"Extracted zein with EtOH 95%","w":462,"t":90.7},{"s":"Extracted zein with EtOH 95%","w":474,"t":91.4},{"s":"Extracted zein with EtOH 95%","w":485,"t":89.4},{"s":"Extracted zein with EtOH 95%","w":497,"t":89.3},{"s":"Extracted zein with EtOH 95%","w":512,"t":90.2},{"s":"Extracted zein with EtOH 95%","w":524,"t":89.1},{"s":"Extracted zein with EtOH 95%","w":535,"t":89.6},{"s":"Extracted zein with EtOH 95%","w":543,"t":88.4},{"s":"Extracted zein with EtOH 95%","w":561,"t":88.4},{"s":"Extracted zein with EtOH 95%","w":578,"t":88.2},{"s":"Extracted zein with EtOH 95%","w":593,"t":88.0},{"s":"Extracted zein with EtOH 95%","w":607,"t":88.6},{"s":"Extracted zein with EtOH 95%","w":625,"t":89.4},{"s":"Extracted zein with EtOH 95%","w":642,"t":89.7},{"s":"Extracted zein with EtOH 95%","w":660,"t":90.1},{"s":"Extracted zein with EtOH 95%","w":683,"t":90.15},{"s":"Extracted zein with EtOH 95%","w":701,"t":90.9},{"s":"Extracted zein with EtOH 95%","w":724,"t":92.0},{"s":"Extracted zein with EtOH 95%","w":741,"t":93.5},{"s":"Extracted zein with EtOH 95%","w":759,"t":94.8},{"s":"Extracted zein with EtOH 95%","w":782,"t":96.2},{"s":"Extracted zein with EtOH 95%","w":800,"t":97.0},{"s":"Extracted zein with EtOH 95%","w":817,"t":97.8},{"s":"Extracted zein with EtOH 95%","w":834,"t":97.35},{"s":"Extracted zein with EtOH 95%","w":852,"t":97.8},{"s":"Extracted zein with EtOH 95%","w":866,"t":97.8},{"s":"Extracted zein with EtOH 95%","w":878,"t":98.8},{"s":"Extracted zein with EtOH 95%","w":887,"t":98.3},{"s":"Extracted zein with EtOH 95%","w":899,"t":99.2},{"s":"Extracted zein with EtOH 95%","w":908,"t":98.5},{"s":"Extracted zein with EtOH 95%","w":916,"t":96.7},{"s":"Extracted zein with EtOH 95%","w":928,"t":95.2},{"s":"Extracted zein with EtOH 95%","w":939,"t":96.06},{"s":"Extracted zein with EtOH 95%","w":951,"t":96.7},{"s":"Extracted zein with EtOH 95%","w":963,"t":98.1},{"s":"Extracted zein with EtOH 95%","w":974,"t":96.4},{"s":"Extracted zein with EtOH 95%","w":982,"t":92.3},{"s":"Extracted zein with EtOH 95%","w":989,"t":87.5},{"s":"Extracted zein with EtOH 95%","w":997,"t":84.2},{"s":"Extracted zein with EtOH 95%","w":1009,"t":86.7},{"s":"Extracted zein with EtOH 95%","w":1021,"t":87.1},{"s":"Extracted zein with EtOH 95%","w":1029,"t":85.85},{"s":"Extracted zein with EtOH 95%","w":1038,"t":82.9},{"s":"Extracted zein with EtOH 95%","w":1050,"t":80.2},{"s":"Extracted zein with EtOH 95%","w":1059,"t":79.2},{"s":"Extracted zein with EtOH 95%","w":1071,"t":81.8},{"s":"Extracted zein with EtOH 95%","w":1082,"t":85.0},{"s":"Extracted zein with EtOH 95%","w":1091,"t":88.3},{"s":"Extracted zein with EtOH 95%","w":1102,"t":87.8},{"s":"Extracted zein with EtOH 95%","w":1114,"t":87.6},{"s":"Extracted zein with EtOH 95%","w":1126,"t":87.5},{"s":"Extracted zein with EtOH 95%","w":1141,"t":87.0},{"s":"Extracted zein with EtOH 95%","w":1152,"t":89.4},{"s":"Extracted zein with EtOH 95%","w":1166,"t":92.0},{"s":"Extracted zein with EtOH 95%","w":1178,"t":93.3},{"s":"Extracted zein with EtOH 95%","w":1190,"t":93.7},{"s":"Extracted zein with EtOH 95%","w":1207,"t":93.5},{"s":"Extracted zein with EtOH 95%","w":1222,"t":93.8},{"s":"Extracted zein with EtOH 95%","w":1242,"t":93.2},{"s":"Extracted zein with EtOH 95%","w":1265,"t":93.2},{"s":"Extracted zein with EtOH 95%","w":1283,"t":93.6},{"s":"Extracted zein with EtOH 95%","w":1300,"t":94.2},{"s":"Extracted zein with EtOH 95%","w":1318,"t":93.8},{"s":"Extracted zein with EtOH 95%","w":1335,"t":93.5},{"s":"Extracted zein with EtOH 95%","w":1353,"t":93.3},{"s":"Extracted zein with EtOH 95%","w":1370,"t":92.7},{"s":"Extracted zein with EtOH 95%","w":1385,"t":92.4},{"s":"Extracted zein with EtOH 95%","w":1399,"t":91.7},{"s":"Extracted zein with EtOH 95%","w":1417,"t":91.4},{"s":"Extracted zein with EtOH 95%","w":1434,"t":91.8},{"s":"Extracted zein with EtOH 95%","w":1452,"t":91.8},{"s":"Extracted zein with EtOH 95%","w":1463,"t":91.4},{"s":"Extracted zein with EtOH 95%","w":1475,"t":93.95},{"s":"Extracted zein with EtOH 95%","w":1487,"t":96.5},{"s":"Extracted zein with EtOH 95%","w":1498,"t":96.7},{"s":"Extracted zein with EtOH 95%","w":1510,"t":95.9},{"s":"Extracted zein with EtOH 95%","w":1521,"t":95.1},{"s":"Extracted zein with EtOH 95%","w":1533,"t":94.6},{"s":"Extracted zein with EtOH 95%","w":1545,"t":93.3},{"s":"Extracted zein with EtOH 95%","w":1556,"t":93.6},{"s":"Extracted zein with EtOH 95%","w":1574,"t":94.3},{"s":"Extracted zein with EtOH 95%","w":1591,"t":93.8},{"s":"Extracted zein with EtOH 95%","w":1603,"t":92.3},{"s":"Extracted zein with EtOH 95%","w":1615,"t":89.9},{"s":"Extracted zein with EtOH 95%","w":1626,"t":87.5},{"s":"Extracted zein with EtOH 95%","w":1638,"t":85.85},{"s":"Extracted zein with EtOH 95%","w":1655,"t":85.4},{"s":"Extracted zein with EtOH 95%","w":1667,"t":87.5},{"s":"Extracted zein with EtOH 95%","w":1679,"t":89.9},{"s":"Extracted zein with EtOH 95%","w":1690,"t":91.5},{"s":"Extracted zein with EtOH 95%","w":1702,"t":92.7},{"s":"Extracted zein with EtOH 95%","w":1714,"t":93.7},{"s":"Extracted zein with EtOH 95%","w":1725,"t":93.6},{"s":"Extracted zein with EtOH 95%","w":1737,"t":92.3},{"s":"Extracted zein with EtOH 95%","w":1749,"t":91.4},{"s":"Extracted zein with EtOH 95%","w":1758,"t":93.95},{"s":"Extracted zein with EtOH 95%","w":1766,"t":96.9},{"s":"Extracted zein with EtOH 95%","w":1778,"t":97.5},{"s":"Extracted zein with EtOH 95%","w":1795,"t":98.0},{"s":"Extracted zein with EtOH 95%","w":1818,"t":98.08},{"s":"Extracted zein with EtOH 95%","w":1830,"t":98.3},{"s":"Extracted zein with EtOH 95%","w":1848,"t":98.2},{"s":"Extracted zein with EtOH 95%","w":1865,"t":98.3},{"s":"Extracted zein with EtOH 95%","w":1882,"t":98.0},{"s":"Extracted zein with EtOH 95%","w":1900,"t":97.9},{"s":"Extracted zein with EtOH 95%","w":1935,"t":97.5},{"s":"Extracted zein with EtOH 95%","w":1970,"t":97.3},{"s":"Extracted zein with EtOH 95%","w":2005,"t":96.8},{"s":"Extracted zein with EtOH 95%","w":2040,"t":96.5},{"s":"Extracted zein with EtOH 95%","w":2074,"t":96.1},{"s":"Extracted zein with EtOH 95%","w":2109,"t":95.8},{"s":"Extracted zein with EtOH 95%","w":2156,"t":95.7},{"s":"Extracted zein with EtOH 95%","w":2212,"t":95.57},{"s":"Extracted zein with EtOH 95%","w":2328,"t":95.25},{"s":"Extracted zein with EtOH 95%","w":2456,"t":94.7},{"s":"Extracted zein with EtOH 95%","w":2503,"t":94.3},{"s":"Extracted zein with EtOH 95%","w":2561,"t":93.95},{"s":"Extracted zein with EtOH 95%","w":2619,"t":93.3},{"s":"Extracted zein with EtOH 95%","w":2678,"t":92.7},{"s":"Extracted zein with EtOH 95%","w":2724,"t":92.1},{"s":"Extracted zein with EtOH 95%","w":2782,"t":91.6},{"s":"Extracted zein with EtOH 95%","w":2812,"t":90.9},{"s":"Extracted zein with EtOH 95%","w":2829,"t":89.9},{"s":"Extracted zein with EtOH 95%","w":2841,"t":88.8},{"s":"Extracted zein with EtOH 95%","w":2850,"t":85.85},{"s":"Extracted zein with EtOH 95%","w":2860,"t":83.9},{"s":"Extracted zein with EtOH 95%","w":2870,"t":85.85},{"s":"Extracted zein with EtOH 95%","w":2881,"t":86.2},{"s":"Extracted zein with EtOH 95%","w":2893,"t":85.85},{"s":"Extracted zein with EtOH 95%","w":2905,"t":84.1},{"s":"Extracted zein with EtOH 95%","w":2916,"t":81.0},{"s":"Extracted zein with EtOH 95%","w":2924,"t":78.6},{"s":"Extracted zein with EtOH 95%","w":2934,"t":77.3},{"s":"Extracted zein with EtOH 95%","w":2943,"t":78.6},{"s":"Extracted zein with EtOH 95%","w":2951,"t":82.6},{"s":"Extracted zein with EtOH 95%","w":2963,"t":83.3},{"s":"Extracted zein with EtOH 95%","w":2974,"t":85.85},{"s":"Extracted zein with EtOH 95%","w":2986,"t":87.5},{"s":"Extracted zein with EtOH 95%","w":2998,"t":88.2},{"s":"Extracted zein with EtOH 95%","w":3015,"t":87.6},{"s":"Extracted zein with EtOH 95%","w":3033,"t":88.1},{"s":"Extracted zein with EtOH 95%","w":3050,"t":87.6},{"s":"Extracted zein with EtOH 95%","w":3073,"t":86.5},{"s":"Extracted zein with EtOH 95%","w":3097,"t":85.2},{"s":"Extracted zein with EtOH 95%","w":3120,"t":83.7},{"s":"Extracted zein with EtOH 95%","w":3143,"t":82.0},{"s":"Extracted zein with EtOH 95%","w":3167,"t":79.9},{"s":"Extracted zein with EtOH 95%","w":3190,"t":77.4},{"s":"Extracted zein with EtOH 95%","w":3211,"t":75.04},{"s":"Extracted zein with EtOH 95%","w":3231,"t":72.6},{"s":"Extracted zein with EtOH 95%","w":3248,"t":70.8},{"s":"Extracted zein with EtOH 95%","w":3266,"t":69.0},{"s":"Extracted zein with EtOH 95%","w":3283,"t":67.4},{"s":"Extracted zein with EtOH 95%","w":3306,"t":65.3},{"s":"Extracted zein with EtOH 95%","w":3324,"t":64.0},{"s":"Extracted zein with EtOH 95%","w":3341,"t":62.2},{"s":"Extracted zein with EtOH 95%","w":3365,"t":60.8},{"s":"Extracted zein with EtOH 95%","w":3388,"t":59.65},{"s":"Extracted zein with EtOH 95%","w":3417,"t":59.1},{"s":"Extracted zein with EtOH 95%","w":3440,"t":59.5},{"s":"Extracted zein with EtOH 95%","w":3464,"t":60.5},{"s":"Extracted zein with EtOH 95%","w":3481,"t":62.1},{"s":"Extracted zein with EtOH 95%","w":3499,"t":63.7},{"s":"Extracted zein with EtOH 95%","w":3514,"t":64.8},{"s":"Extracted zein with EtOH 95%","w":3528,"t":66.9},{"s":"Extracted zein with EtOH 95%","w":3539,"t":68.6},{"s":"Extracted zein with EtOH 95%","w":3549,"t":69.5},{"s":"Extracted zein with EtOH 95%","w":3557,"t":70.7},{"s":"Extracted zein with EtOH 95%","w":3565,"t":72.6},{"s":"Extracted zein with EtOH 95%","w":3576,"t":73.4},{"s":"Extracted zein with EtOH 95%","w":3586,"t":75.0},{"s":"Extracted zein with EtOH 95%","w":3603,"t":77.1},{"s":"Extracted zein with EtOH 95%","w":3621,"t":80.5},{"s":"Extracted zein with EtOH 95%","w":3632,"t":83.1},{"s":"Extracted zein with EtOH 95%","w":3642,"t":85.0},{"s":"Extracted zein with EtOH 95%","w":3650,"t":86.0},{"s":"Extracted zein with EtOH 95%","w":3662,"t":85.5},{"s":"Extracted zein with EtOH 95%","w":3670,"t":88.4},{"s":"Extracted zein with EtOH 95%","w":3681,"t":87.6},{"s":"Extracted zein with EtOH 95%","w":3693,"t":89.1},{"s":"Extracted zein with EtOH 95%","w":3705,"t":88.6},{"s":"Extracted zein with EtOH 95%","w":3714,"t":90.2},{"s":"Extracted zein with EtOH 95%","w":3726,"t":89.25},{"s":"Extracted zein with EtOH 95%","w":3737,"t":90.55},{"s":"Extracted zein with EtOH 95%","w":3755,"t":90.0},{"s":"Extracted zein with EtOH 95%","w":3772,"t":90.9},{"s":"Extracted zein with EtOH 95%","w":3790,"t":91.0},{"s":"Extracted zein with EtOH 95%","w":3801,"t":92.3},{"s":"Extracted zein with EtOH 95%","w":3816,"t":91.8},{"s":"Extracted zein with EtOH 95%","w":3830,"t":92.5},{"s":"Extracted zein with EtOH 95%","w":3848,"t":92.8},{"s":"Extracted zein with EtOH 95%","w":3865,"t":92.5},{"s":"Extracted zein with EtOH 95%","w":3888,"t":93.3},{"s":"Extracted zein with EtOH 95%","w":3906,"t":93.0},{"s":"Extracted zein with EtOH 95%","w":3923,"t":93.6},{"s":"Extracted zein with EtOH 95%","w":3947,"t":93.8},{"s":"Extracted zein with EtOH 95%","w":3970,"t":94.0},{"s":"Extracted zein with EtOH 95%","w":3988,"t":94.3},{"s":"Extracted zein with EtOH 95%","w":4000,"t":94.4},
    {"s":"Comercial zein with EtOH 95%","w":404,"t":91.5},{"s":"Comercial zein with EtOH 95%","w":410,"t":96.4},{"s":"Comercial zein with EtOH 95%","w":419,"t":93.3},{"s":"Comercial zein with EtOH 95%","w":433,"t":94.4},{"s":"Comercial zein with EtOH 95%","w":444,"t":91.5},{"s":"Comercial zein with EtOH 95%","w":456,"t":91.6},{"s":"Comercial zein with EtOH 95%","w":470,"t":92.7},{"s":"Comercial zein with EtOH 95%","w":485,"t":92.0},{"s":"Comercial zein with EtOH 95%","w":497,"t":93.3},{"s":"Comercial zein with EtOH 95%","w":512,"t":92.2},{"s":"Comercial zein with EtOH 95%","w":526,"t":90.1},{"s":"Comercial zein with EtOH 95%","w":541,"t":90.6},{"s":"Comercial zein with EtOH 95%","w":555,"t":90.95},{"s":"Comercial zein with EtOH 95%","w":569,"t":89.8},{"s":"Comercial zein with EtOH 95%","w":590,"t":89.6},{"s":"Comercial zein with EtOH 95%","w":602,"t":89.9},{"s":"Comercial zein with EtOH 95%","w":613,"t":89.7},{"s":"Comercial zein with EtOH 95%","w":631,"t":90.4},{"s":"Comercial zein with EtOH 95%","w":648,"t":91.5},{"s":"Comercial zein with EtOH 95%","w":666,"t":91.0},{"s":"Comercial zein with EtOH 95%","w":689,"t":92.1},{"s":"Comercial zein with EtOH 95%","w":706,"t":91.4},{"s":"Comercial zein with EtOH 95%","w":724,"t":93.5},{"s":"Comercial zein with EtOH 95%","w":741,"t":94.3},{"s":"Comercial zein with EtOH 95%","w":759,"t":95.4},{"s":"Comercial zein with EtOH 95%","w":782,"t":96.9},{"s":"Comercial zein with EtOH 95%","w":805,"t":97.6},{"s":"Comercial zein with EtOH 95%","w":829,"t":98.5},{"s":"Comercial zein with EtOH 95%","w":852,"t":99.1},{"s":"Comercial zein with EtOH 95%","w":875,"t":99.5},{"s":"Comercial zein with EtOH 95%","w":904,"t":99.65},{"s":"Comercial zein with EtOH 95%","w":928,"t":99.3},{"s":"Comercial zein with EtOH 95%","w":945,"t":99.4},{"s":"Comercial zein with EtOH 95%","w":968,"t":98.7},{"s":"Comercial zein with EtOH 95%","w":992,"t":97.8},{"s":"Comercial zein with EtOH 95%","w":1015,"t":97.0},{"s":"Comercial zein with EtOH 95%","w":1038,"t":95.6},{"s":"Comercial zein with EtOH 95%","w":1056,"t":94.6},{"s":"Comercial zein with EtOH 95%","w":1073,"t":94.7},{"s":"Comercial zein with EtOH 95%","w":1096,"t":94.3},{"s":"Comercial zein with EtOH 95%","w":1120,"t":93.6},{"s":"Comercial zein with EtOH 95%","w":1143,"t":93.8},{"s":"Comercial zein with EtOH 95%","w":1155,"t":92.3},{"s":"Comercial zein with EtOH 95%","w":1172,"t":91.3},{"s":"Comercial zein with EtOH 95%","w":1190,"t":92.3},{"s":"Comercial zein with EtOH 95%","w":1213,"t":91.7},{"s":"Comercial zein with EtOH 95%","w":1230,"t":89.9},{"s":"Comercial zein with EtOH 95%","w":1245,"t":89.1},{"s":"Comercial zein with EtOH 95%","w":1265,"t":89.7},{"s":"Comercial zein with EtOH 95%","w":1289,"t":90.2},{"s":"Comercial zein with EtOH 95%","w":1312,"t":90.5},{"s":"Comercial zein with EtOH 95%","w":1329,"t":91.1},{"s":"Comercial zein with EtOH 95%","w":1353,"t":91.4},{"s":"Comercial zein with EtOH 95%","w":1376,"t":90.5},{"s":"Comercial zein with EtOH 95%","w":1399,"t":90.2},{"s":"Comercial zein with EtOH 95%","w":1417,"t":89.25},{"s":"Comercial zein with EtOH 95%","w":1434,"t":88.1},{"s":"Comercial zein with EtOH 95%","w":1452,"t":86.0},{"s":"Comercial zein with EtOH 95%","w":1469,"t":87.8},{"s":"Comercial zein with EtOH 95%","w":1484,"t":91.5},{"s":"Comercial zein with EtOH 95%","w":1498,"t":87.5},{"s":"Comercial zein with EtOH 95%","w":1510,"t":83.4},{"s":"Comercial zein with EtOH 95%","w":1521,"t":81.8},{"s":"Comercial zein with EtOH 95%","w":1545,"t":80.2},{"s":"Comercial zein with EtOH 95%","w":1556,"t":82.6},{"s":"Comercial zein with EtOH 95%","w":1568,"t":86.7},{"s":"Comercial zein with EtOH 95%","w":1583,"t":88.9},{"s":"Comercial zein with EtOH 95%","w":1597,"t":87.1},{"s":"Comercial zein with EtOH 95%","w":1615,"t":82.6},{"s":"Comercial zein with EtOH 95%","w":1632,"t":76.9},{"s":"Comercial zein with EtOH 95%","w":1644,"t":75.0},{"s":"Comercial zein with EtOH 95%","w":1653,"t":73.5},{"s":"Comercial zein with EtOH 95%","w":1661,"t":72.85},{"s":"Comercial zein with EtOH 95%","w":1670,"t":73.6},{"s":"Comercial zein with EtOH 95%","w":1684,"t":75.0},{"s":"Comercial zein with EtOH 95%","w":1696,"t":79.4},{"s":"Comercial zein with EtOH 95%","w":1708,"t":83.4},{"s":"Comercial zein with EtOH 95%","w":1725,"t":86.3},{"s":"Comercial zein with EtOH 95%","w":1737,"t":87.5},{"s":"Comercial zein with EtOH 95%","w":1748,"t":89.1},{"s":"Comercial zein with EtOH 95%","w":1760,"t":91.4},{"s":"Comercial zein with EtOH 95%","w":1778,"t":93.6},{"s":"Comercial zein with EtOH 95%","w":1795,"t":94.9},{"s":"Comercial zein with EtOH 95%","w":1818,"t":96.2},{"s":"Comercial zein with EtOH 95%","w":1853,"t":97.4},{"s":"Comercial zein with EtOH 95%","w":1900,"t":98.2},{"s":"Comercial zein with EtOH 95%","w":1946,"t":98.5},{"s":"Comercial zein with EtOH 95%","w":2016,"t":98.65},{"s":"Comercial zein with EtOH 95%","w":2109,"t":98.73},{"s":"Comercial zein with EtOH 95%","w":2212,"t":98.8},{"s":"Comercial zein with EtOH 95%","w":2456,"t":98.8},{"s":"Comercial zein with EtOH 95%","w":2515,"t":98.57},{"s":"Comercial zein with EtOH 95%","w":2561,"t":98.3},{"s":"Comercial zein with EtOH 95%","w":2619,"t":97.9},{"s":"Comercial zein with EtOH 95%","w":2678,"t":97.7},{"s":"Comercial zein with EtOH 95%","w":2724,"t":97.2},{"s":"Comercial zein with EtOH 95%","w":2771,"t":96.4},{"s":"Comercial zein with EtOH 95%","w":2806,"t":95.4},{"s":"Comercial zein with EtOH 95%","w":2829,"t":94.6},{"s":"Comercial zein with EtOH 95%","w":2843,"t":93.6},{"s":"Comercial zein with EtOH 95%","w":2850,"t":91.5},{"s":"Comercial zein with EtOH 95%","w":2858,"t":90.1},{"s":"Comercial zein with EtOH 95%","w":2876,"t":89.9},{"s":"Comercial zein with EtOH 95%","w":2891,"t":90.5},{"s":"Comercial zein with EtOH 95%","w":2905,"t":89.1},{"s":"Comercial zein with EtOH 95%","w":2920,"t":86.7},{"s":"Comercial zein with EtOH 95%","w":2934,"t":84.0},{"s":"Comercial zein with EtOH 95%","w":2945,"t":85.4},{"s":"Comercial zein with EtOH 95%","w":2955,"t":86.2},{"s":"Comercial zein with EtOH 95%","w":2963,"t":85.4},{"s":"Comercial zein with EtOH 95%","w":2975,"t":87.5},{"s":"Comercial zein with EtOH 95%","w":2990,"t":90.7},{"s":"Comercial zein with EtOH 95%","w":3004,"t":91.9},{"s":"Comercial zein with EtOH 95%","w":3027,"t":91.7},{"s":"Comercial zein with EtOH 95%","w":3050,"t":91.0},{"s":"Comercial zein with EtOH 95%","w":3073,"t":90.7},{"s":"Comercial zein with EtOH 95%","w":3103,"t":91.0},{"s":"Comercial zein with EtOH 95%","w":3126,"t":90.5},{"s":"Comercial zein with EtOH 95%","w":3149,"t":89.1},{"s":"Comercial zein with EtOH 95%","w":3172,"t":87.3},{"s":"Comercial zein with EtOH 95%","w":3196,"t":85.85},{"s":"Comercial zein with EtOH 95%","w":3213,"t":84.9},{"s":"Comercial zein with EtOH 95%","w":3236,"t":83.9},{"s":"Comercial zein with EtOH 95%","w":3260,"t":82.5},{"s":"Comercial zein with EtOH 95%","w":3283,"t":81.0},{"s":"Comercial zein with EtOH 95%","w":3300,"t":80.3},{"s":"Comercial zein with EtOH 95%","w":3330,"t":79.9},{"s":"Comercial zein with EtOH 95%","w":3365,"t":79.7},{"s":"Comercial zein with EtOH 95%","w":3394,"t":79.8},{"s":"Comercial zein with EtOH 95%","w":3429,"t":79.7},{"s":"Comercial zein with EtOH 95%","w":3458,"t":80.2},{"s":"Comercial zein with EtOH 95%","w":3481,"t":81.15},{"s":"Comercial zein with EtOH 95%","w":3504,"t":82.5},{"s":"Comercial zein with EtOH 95%","w":3533,"t":84.2},{"s":"Comercial zein with EtOH 95%","w":3563,"t":86.2},{"s":"Comercial zein with EtOH 95%","w":3586,"t":88.1},{"s":"Comercial zein with EtOH 95%","w":3609,"t":89.7},{"s":"Comercial zein with EtOH 95%","w":3632,"t":91.4},{"s":"Comercial zein with EtOH 95%","w":3656,"t":93.1},{"s":"Comercial zein with EtOH 95%","w":3673,"t":94.6},{"s":"Comercial zein with EtOH 95%","w":3691,"t":96.06},{"s":"Comercial zein with EtOH 95%","w":3708,"t":96.4},{"s":"Comercial zein with EtOH 95%","w":3726,"t":97.35},{"s":"Comercial zein with EtOH 95%","w":3743,"t":97.6},{"s":"Comercial zein with EtOH 95%","w":3760,"t":97.5},{"s":"Comercial zein with EtOH 95%","w":3778,"t":97.7},{"s":"Comercial zein with EtOH 95%","w":3795,"t":98.2},{"s":"Comercial zein with EtOH 95%","w":3813,"t":98.3},{"s":"Comercial zein with EtOH 95%","w":3848,"t":98.3}
  ],
  "peaks": [
    {"label":"C-N","w":830,"t":61.5},
    {"label":"N-H","w":1053,"t":47.4},
    {"label":"C= O","w":1135,"t":42.9}
  ],
  "groups": [
    {"label":"-COOH","w":3786,"t":54.9},
    {"label":"-OH","w":3786,"t":50.84},
    {"label":"-NH₂","w":3786,"t":46.77}
  ],
  "arrows": [
    {"label":"C-N","w":993,"t":62.1,"w2":1177,"t2":65.3},
    {"label":"N-H","w":1212,"t":47.9,"w2":1439,"t2":50.0},
    {"label":"C= O","w":1337,"t":43.0,"w2":1552,"t2":43.0}
  ],
  "brace": [
    {"i":1,"w":3526,"t":59.34},{"i":2,"w":3596,"t":59.2},{"i":3,"w":3615,"t":58.8},{"i":4,"w":3615,"t":52.8},{"i":5,"w":3626,"t":52.4},{"i":6,"w":3702,"t":52.25},{"i":7,"w":3626,"t":52.1},{"i":8,"w":3615,"t":51.7},{"i":9,"w":3615,"t":45.8},{"i":10,"w":3596,"t":45.33},{"i":11,"w":3526,"t":45.16}
  ]
},
"hconcat": [
  {"vconcat": [
  {"width": 1, "height": 1, "data": {"values": []}, "mark": {"type": "point", "opacity": 0}},
  {
    "width": 1331, "height": 1066,
    "title": {"text": "a)", "dx": 46, "offset": -55},
    "layer": [
      {
        "data": {"name": "a"},
        "mark": {"type": "line", "strokeWidth": 3.5},
        "encoding": {
          "x": {"field": "w", "type": "quantitative", "scale": {"domain": [400, 4000], "nice": false, "zero": false},
                "axis": {"values": [1000, 2000, 3000, 4000], "format": "d", "tickSize": 20, "labelPadding": 18, "title": "Wavenumbers (cm⁻¹)", "titleFontSize": 50, "titlePadding": 28}},
          "y": {"field": "t", "type": "quantitative", "scale": {"domain": [40, 100], "nice": false, "zero": false},
                "axis": {"values": [40, 50, 60, 70, 80, 90, 100], "tickSize": 22, "labelPadding": 12, "title": "% Transmittance", "titleFontSize": 52, "titleX": -176, "titleY": 633}},
          "color": {"field": "s", "type": "nominal",
                    "scale": {"domain": ["Sigma Aldrich zein", "Extracted zein with EtOH 65%", "Comercial zein with EtOH 65%"], "range": ["#000000", "#ff0000", "#0000ff"]},
                    "legend": {"orient": "none", "legendX": 688.5, "legendY": -129, "symbolSize": 7225, "labelOffset": 78.5, "clipHeight": 45}}
        }
      },
      {
        "data": {"name": "brace"},
        "mark": {"type": "line", "color": "#000", "strokeWidth": 2.5},
        "encoding": {
          "x": {"field": "w", "type": "quantitative", "axis": {"values": [500, 1500, 2500, 3500], "orient": "bottom", "tickSize": 11, "labels": false, "domain": false, "title": null}},
          "y": {"field": "t", "type": "quantitative", "axis": {"values": [45, 55, 65, 75, 85, 95], "orient": "left", "tickSize": 11, "labels": false, "domain": false, "title": null}},
          "order": {"field": "i"}
        }
      },
      {
        "data": {"name": "arrows"},
        "mark": {"type": "rule", "color": "#000", "strokeWidth": 2.5},
        "encoding": {
          "x": {"field": "w", "type": "quantitative", "axis": null},
          "y": {"field": "t", "type": "quantitative", "axis": null},
          "x2": {"field": "w2"},
          "y2": {"field": "t2"}
        }
      },
      {
        "data": {"name": "arrows"},
        "transform": [{"filter": "datum.label == 'C-N'"}],
        "mark": {"type": "point", "shape": "triangle-right", "size": 500, "filled": true, "color": "#000", "opacity": 1, "angle": -40},
        "encoding": {"x": {"field": "w2", "type": "quantitative", "axis": null}, "y": {"field": "t2", "type": "quantitative", "axis": null}}
      },
      {
        "data": {"name": "arrows"},
        "transform": [{"filter": "datum.label == 'N-H'"}],
        "mark": {"type": "point", "shape": "triangle-right", "size": 500, "filled": true, "color": "#000", "opacity": 1, "angle": -24},
        "encoding": {"x": {"field": "w2", "type": "quantitative", "axis": null}, "y": {"field": "t2", "type": "quantitative", "axis": null}}
      },
      {
        "data": {"name": "arrows"},
        "transform": [{"filter": "datum.label == 'C= O'"}],
        "mark": {"type": "point", "shape": "triangle-right", "size": 500, "filled": true, "color": "#000", "opacity": 1, "angle": 0},
        "encoding": {"x": {"field": "w2", "type": "quantitative", "axis": null}, "y": {"field": "t2", "type": "quantitative", "axis": null}}
      },
      {
        "data": {"name": "peaks"},
        "mark": {"type": "text", "fontSize": 50, "fontWeight": "bold", "font": "Liberation Sans", "color": "#000", "align": "center", "baseline": "middle"},
        "encoding": {"x": {"field": "w", "type": "quantitative", "axis": null}, "y": {"field": "t", "type": "quantitative", "axis": null}, "text": {"field": "label"}}
      },
      {
        "data": {"name": "groups"},
        "mark": {"type": "text", "fontSize": 58, "fontWeight": "bold", "font": "Liberation Sans", "color": "#000", "align": "left", "baseline": "middle"},
        "encoding": {"x": {"field": "w", "type": "quantitative", "axis": null}, "y": {"field": "t", "type": "quantitative", "axis": null}, "text": {"field": "label"}}
      }
    ],
    "resolve": {"axis": {"x": "independent", "y": "independent"}}
  }
  ], "spacing": 0, "resolve": {"scale": {"color": "independent"}, "legend": {"color": "independent"}}},
  {"vconcat": [
  {"width": 1, "height": 1, "data": {"values": []}, "mark": {"type": "point", "opacity": 0}},
  {
    "width": 1303, "height": 1043,
    "title": {"text": "b)", "dx": 57, "offset": -104},
    "layer": [
      {
        "data": {"name": "b"},
        "mark": {"type": "line", "strokeWidth": 3.5},
        "encoding": {
          "x": {"field": "w", "type": "quantitative", "scale": {"domain": [400, 4000], "nice": false, "zero": false},
                "axis": {"values": [1000, 2000, 3000, 4000], "format": "d", "tickSize": 20, "labelPadding": 18, "title": "Wavenumbers (cm⁻¹)", "titleFontSize": 50, "titlePadding": 28}},
          "y": {"field": "t", "type": "quantitative", "scale": {"domain": [50, 100], "nice": false, "zero": false},
                "axis": {"values": [50, 60, 70, 80, 90, 100], "tickSize": 22, "labelPadding": 12, "title": "% Transmittance", "titleFontSize": 52, "titleX": -129, "titleY": 608}},
          "color": {"field": "s", "type": "nominal",
                    "scale": {"domain": ["Sigma Aldrich zein", "Extracted zein with EtOH 95%", "Comercial zein with EtOH 95%"], "range": ["#000000", "#ff0000", "#0000ff"]},
                    "legend": {"orient": "none", "legendX": 795.5, "legendY": -171, "padding": 30, "symbolSize": 8100, "labelOffset": 81.5, "clipHeight": 50}}
        }
      },
      {
        "data": {"name": "b"},
        "transform": [{"filter": "false"}],
        "mark": {"type": "point", "opacity": 0},
        "encoding": {
          "x": {"field": "w", "type": "quantitative", "axis": {"values": [500, 1500, 2500, 3500], "orient": "bottom", "tickSize": 11, "labels": false, "domain": false, "title": null}},
          "y": {"field": "t", "type": "quantitative", "axis": {"values": [55, 65, 75, 85, 95], "orient": "left", "tickSize": 11, "labels": false, "domain": false, "title": null}}
        }
      }
    ],
    "resolve": {"axis": {"x": "independent", "y": "independent"}}
  }
  ], "spacing": 0, "resolve": {"scale": {"color": "independent"}, "legend": {"color": "independent"}}}
],
"spacing": 176,
"resolve": {"scale": {"color": "independent"}, "legend": {"color": "independent"}}
}
